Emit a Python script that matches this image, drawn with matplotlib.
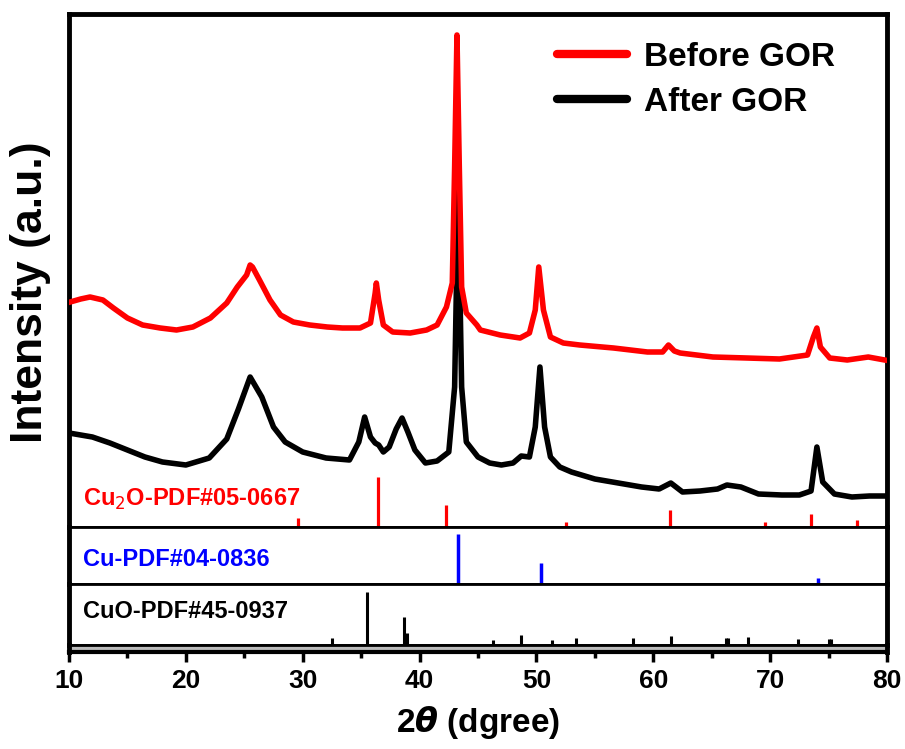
import matplotlib
matplotlib.use("Agg")
import matplotlib.pyplot as plt
from matplotlib.ticker import MultipleLocator

plt.rcParams['font.family'] = ['Liberation Sans', 'DejaVu Sans']
plt.rcParams['mathtext.fontset'] = 'dejavusans'

# ---------------- data (arbitrary intensity units) ----------------
tt_before = [10.1, 11.0, 11.8, 12.9, 13.8, 15.0, 16.3, 17.8, 19.2, 20.6, 22.1, 23.5, 24.4, 25.2,
             25.5, 25.7, 26.3, 27.2, 28.1, 29.2, 30.6, 32.1, 33.4, 34.9, 35.8, 36.2, 36.3, 36.5,
             36.9, 37.7, 39.2, 40.6, 41.5, 42.3, 42.8, 43.0, 43.2, 43.4, 43.6, 44.0, 44.9, 45.2,
             46.9, 48.6, 49.4, 49.9, 50.2, 50.6, 51.2, 52.3, 53.7, 56.6, 59.5, 60.8, 61.3, 61.8,
             62.3, 65.1, 68.0, 70.8, 73.2, 73.7, 74.0, 74.3, 75.1, 76.6, 78.4, 79.8]
int_before = [225, 228, 230, 227, 219, 209, 202, 199, 197, 200, 209, 224, 240, 252,
              262, 260, 247, 227, 212, 205, 202, 200, 199, 199, 204, 234, 244, 227,
              202, 195, 194, 197, 202, 220, 244, 360, 492, 360, 240, 214, 202, 197,
              192, 189, 194, 217, 260, 217, 190, 184, 182, 179, 175, 175, 182, 176,
              174, 170, 169, 168, 172, 190, 199, 180, 169, 167, 170, 167]

tt_after = [10.0, 11.0, 12.0, 13.5, 15.0, 16.5, 18.0, 20.0, 22.0, 23.5, 24.5, 25.5, 26.5, 27.5,
            28.5, 30.0, 32.0, 34.0, 34.8, 35.3, 35.8, 36.2, 36.5, 36.9, 37.4, 38.0, 38.5, 39.0,
            39.6, 40.5, 41.5, 42.5, 43.0, 43.3, 43.6, 44.0, 45.0, 46.0, 47.0, 48.0, 48.7, 49.4,
            49.9, 50.3, 50.7, 51.2, 52.0, 53.0, 55.0, 57.0, 59.0, 60.5, 61.5, 62.5, 64.0, 65.5,
            66.3, 67.5, 69.0, 71.0, 72.5, 73.5, 74.0, 74.5, 75.5, 77.0, 78.5, 80.0]
int_after = [94, 92, 90, 84, 77, 70, 65, 62, 69, 88, 118, 150, 130, 100,
             85, 75, 69, 67, 85, 110, 90, 84, 82, 75, 80, 98, 109, 95,
             77, 64, 66, 75, 140, 337, 140, 85, 70, 64, 62, 64, 71, 70,
             100, 160, 100, 70, 60, 55, 48, 44, 40, 38, 44, 35, 36, 38,
             42, 40, 33, 32, 32, 36, 80, 45, 33, 30, 31, 31]

cu2o_pos = [29.6, 36.4, 42.3, 52.5, 61.4, 69.6, 73.5, 77.4]
cu2o_int = [9, 50, 22, 5, 17, 5, 13, 7]

cu_pos = [43.3, 50.4, 74.1]
cu_int = [50, 21, 6]

cuo_pos = [32.5, 35.5, 38.7, 38.9, 46.3, 48.7, 51.3, 53.4, 58.3, 61.5, 66.2, 66.4, 68.1, 72.4, 75.0, 75.2]
cuo_int = [7, 53, 28, 12, 5, 10, 5, 7, 7, 9, 7, 7, 8, 6, 6, 6]

x_ticks = [10, 20, 30, 40, 50, 60, 70, 80]

# ---------------- figure ----------------
W, H = 905, 749
fig = plt.figure(figsize=(W / 100, H / 100), dpi=100)

def fr(top_px, bot_px):
    return [69 / W, 1 - bot_px / H, (887 - 69) / W, (bot_px - top_px) / H]

ax_main = fig.add_axes(fr(14, 527))
ax_cu = fig.add_axes(fr(527, 584), sharex=ax_main)
ax_cuo = fig.add_axes(fr(584, 645), sharex=ax_main)
ax_bot = fig.add_axes(fr(645, 652), sharex=ax_main)

for ax in (ax_main, ax_cu, ax_cuo, ax_bot):
    for s in ax.spines.values():
        s.set_linewidth(2.0)
        s.set_color('black')
    ax.spines['left'].set_linewidth(3.5)
    ax.spines['right'].set_linewidth(3.5)
    ax.set_yticks([])
    ax.tick_params(axis='x', which='both', bottom=False, top=False, labelbottom=False)
ax_main.spines['top'].set_linewidth(3.5)
ax_bot.spines['bottom'].set_linewidth(3.0)

# main panel curves
ax_main.plot(tt_before, int_before, color='#ff0000', lw=4.0, solid_joinstyle='round', label='Before GOR', zorder=3)
ax_main.plot(tt_after, int_after, color='black', lw=4.0, solid_joinstyle='round', label='After GOR', zorder=2)
ax_main.vlines(cu2o_pos, 0, cu2o_int, color='#ff0000', lw=2.3)
ax_main.set_ylim(0, 513)
ax_main.set_xlim(10, 80)

ax_main.text((83 - 69) / 818, 28 / 513, r'Cu$_2$O-PDF#05-0667', color='#ff0000', fontsize=17,
             fontweight='bold', transform=ax_main.transAxes, va='center', ha='left')

leg = ax_main.legend(loc='upper left', bbox_to_anchor=((557 - 69) / 818, 1 - (42 - 14) / 513),
                     frameon=False, borderpad=0, borderaxespad=0, handlelength=2.1,
                     handletextpad=0.5, labelspacing=0.42,
                     prop={'size': 24, 'weight': 'bold'})
for h in leg.get_lines():
    h.set_linewidth(6)
    h.set_solid_capstyle('round')

# Cu panel
ax_cu.vlines(cu_pos, 0, cu_int, color='#0000ff', lw=2.5)
ax_cu.set_ylim(0, 57)
ax_cu.text((83 - 69) / 818, 0.43, 'Cu-PDF#04-0836', color='#0000ff', fontsize=17,
           fontweight='bold', transform=ax_cu.transAxes, va='center', ha='left')

# CuO panel
ax_cuo.vlines(cuo_pos, 0, cuo_int, color='black', lw=2.2)
ax_cuo.set_ylim(0, 61)
ax_cuo.text((83 - 69) / 818, 0.55, 'CuO-PDF#45-0937', color='black', fontsize=17,
            fontweight='bold', transform=ax_cuo.transAxes, va='center', ha='left')

# bottom thin axis with ticks
ax_bot.set_facecolor('#bbbbbb')
ax_bot.set_xticks(x_ticks)
ax_bot.xaxis.set_minor_locator(MultipleLocator(5))
ax_bot.tick_params(axis='x', which='major', bottom=True, labelbottom=True, direction='out',
                   length=7, width=2.5, pad=5, labelsize=19)
ax_bot.tick_params(axis='x', which='minor', bottom=True, direction='out', length=4, width=2.5)
for lbl in ax_bot.get_xticklabels():
    lbl.set_fontweight('bold')
ax_bot.set_xlabel(r'2$\boldsymbol{\theta}$ (dgree)', fontsize=24, fontweight='bold', labelpad=8)
ax_bot.set_xlim(10, 80)

fig.text(31 / W, 1 - 292 / H, 'Intensity (a.u.)', rotation=90, fontsize=32, fontweight='bold',
         ha='center', va='center')

fig.savefig('out.png', dpi=100)
